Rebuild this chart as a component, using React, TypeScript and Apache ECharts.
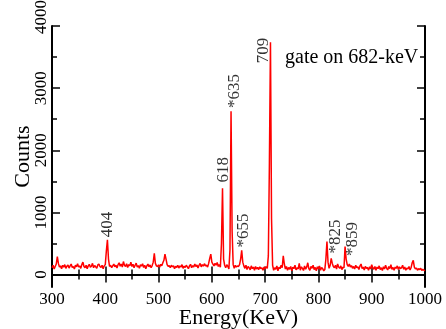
import React, { useEffect, useRef } from "react";
import * as echarts from "echarts";

const startEnergy = 300;
const stepEnergy = 2;
const counts: number[] = [
  110,150,90,130,170,290,180,120,140,95,150,120,160,100,135,155,105,140,170,115,130,90,150,125,175,
  120,140,100,160,200,130,110,150,95,140,165,120,135,180,110,145,125,100,155,170,130,115,150,95,140,
  160,380,560,250,130,150,110,140,170,125,150,105,160,190,135,170,120,210,150,130,175,115,160,140,200,
  130,165,110,150,185,120,145,100,160,135,175,115,150,95,140,170,125,155,110,145,200,340,180,140,130,
  155,120,165,140,190,230,330,250,160,130,145,110,150,125,140,95,135,115,150,105,140,120,160,100,135,
  115,150,125,95,140,165,110,145,120,170,130,155,105,150,180,125,160,135,175,140,150,120,180,260,330,
  200,170,140,180,150,195,130,160,120,500,1390,250,150,110,160,130,90,400,2630,700,160,100,150,120,140,
  130,160,250,390,200,140,100,150,80,130,110,75,140,95,120,70,130,90,115,80,125,95,110,70,120,
  90,130,100,300,1800,3740,900,150,70,110,85,140,60,120,95,150,110,300,170,90,130,70,115,85,130,
  60,120,95,150,75,110,90,180,70,125,100,65,140,85,120,190,95,70,130,100,150,80,115,60,125,
  90,140,70,115,95,60,80,250,530,200,100,150,260,180,130,110,150,90,170,120,100,140,80,120,110,
  450,250,160,130,170,120,145,100,130,90,150,110,125,80,140,170,95,120,75,130,100,115,70,125,90,
  160,110,85,130,70,120,95,140,80,110,65,125,90,150,100,75,130,95,160,85,115,70,120,100,140,
  80,125,95,110,150,85,120,70,105,90,130,75,115,190,230,120,90,105,70,95,80,100,65,85,70,
  60,
];

const peakLabels = ["404", "618", "*635", "709", "*655", "*825", "*859"];
const peakLabelEnergy = [403, 620, 641, 695, 658, 831, 863];
const peakLabelCounts = [600, 1480, 2680, 3400, 435, 340, 300];

const yMajorTicks = [0, 1000, 2000, 3000, 4000];
const yMinorTicks = [500, 1500, 2500, 3500];

const FONT = "Liberation Serif";

export default function App() {
  const ref = useRef<HTMLDivElement>(null);
  useEffect(() => {
    if (!ref.current) return;
    const chart = echarts.init(ref.current, null, { renderer: "svg" });
    const spectrum = counts.map((c, i) => [startEnergy + i * stepEnergy, c]);
    const labelPts = peakLabels.map((t, i) => ({
      value: [peakLabelEnergy[i], peakLabelCounts[i]],
      label: { formatter: t },
    }));
    const plain = (v: number) => String(v);
    const yFmt = (v: number) => (v === 4000 ? "{top|" + v + "}" : String(v));
    const axisLine = { show: true, lineStyle: { color: "#000", width: 2 } };
    const baseX = {
      type: "value",
      min: 300,
      max: 1000,
      interval: 100,
      splitLine: { show: false },
      axisLine,
      axisTick: { show: true, inside: true, length: 8, lineStyle: { color: "#000", width: 1.5 } },
      minorTick: { show: true, splitNumber: 2, length: 5, lineStyle: { color: "#000", width: 1.5 } },
    };
    const baseY = (pos: string, ticks: number[], len: number, labels: boolean, line: boolean) => ({
      type: "value",
      position: pos,
      min: -200,
      max: 4000,
      splitLine: { show: false },
      axisLine: line ? axisLine : { show: false },
      axisTick: {
        show: true,
        inside: true,
        length: len,
        customValues: ticks,
        lineStyle: { color: "#000", width: 1.5 },
      },
      axisLabel: labels
        ? {
            show: true,
            customValues: ticks,
            formatter: yFmt,
            rotate: 90,
            margin: 3,
            color: "#000",
            fontFamily: FONT,
            fontSize: 17,
            rich: {
              top: { fontFamily: FONT, fontSize: 17, color: "#000", padding: [0, 0, 0, 18] },
            },
          }
        : { show: false },
    });
    chart.setOption({
      animation: false,
      textStyle: { fontFamily: FONT },
      grid: { left: 52, right: 21, top: 26, bottom: 42, outerBoundsMode: "none", containLabel: false },
      xAxis: [
        {
          ...baseX,
          position: "bottom",
          name: "Energy(KeV)",
          nameLocation: "middle",
          nameGap: 18,
          nameMoveOverlap: false,
          nameTextStyle: { color: "#000", fontFamily: FONT, fontSize: 22, verticalAlign: "top" },
          axisLabel: { show: true, formatter: plain, margin: 3, color: "#000", fontFamily: FONT, fontSize: 17 },
        },
        { ...baseX, position: "top", axisLabel: { show: false } },
      ],
      yAxis: [
        {
          ...baseY("left", yMajorTicks, 8, true, true),
          name: "Counts",
          nameLocation: "middle",
          nameGap: 20,
          nameMoveOverlap: false,
          nameTextStyle: { color: "#000", fontFamily: FONT, fontSize: 22 },
        },
        baseY("right", yMajorTicks, 8, false, true),
        baseY("left", yMinorTicks, 5, false, false),
        baseY("right", yMinorTicks, 5, false, false),
      ],
      series: [
        {
          type: "line",
          data: spectrum,
          showSymbol: false,
          symbol: "none",
          lineStyle: { color: "#ff0000", width: 1.5 },
          xAxisIndex: 0,
          yAxisIndex: 0,
          z: 2,
        },
        {
          type: "scatter",
          data: labelPts,
          symbolSize: 0,
          xAxisIndex: 0,
          yAxisIndex: 0,
          silent: true,
          label: {
            show: true,
            position: "inside",
            rotate: 90,
            align: "left",
            verticalAlign: "middle",
            color: "#000",
            fontFamily: FONT,
            fontSize: 17,
          },
          z: 3,
        },
      ],
      graphic: [
        {
          type: "text",
          left: 285,
          top: 46,
          style: { text: "gate on 682-keV", fill: "#000", font: `20px "${FONT}"` },
        },
      ],
    });
    return () => chart.dispose();
  }, []);
  return (
    <div
      ref={ref}
      style={{ position: "fixed", left: 0, top: 0, width: 446, height: 329 }}
    />
  );
}
